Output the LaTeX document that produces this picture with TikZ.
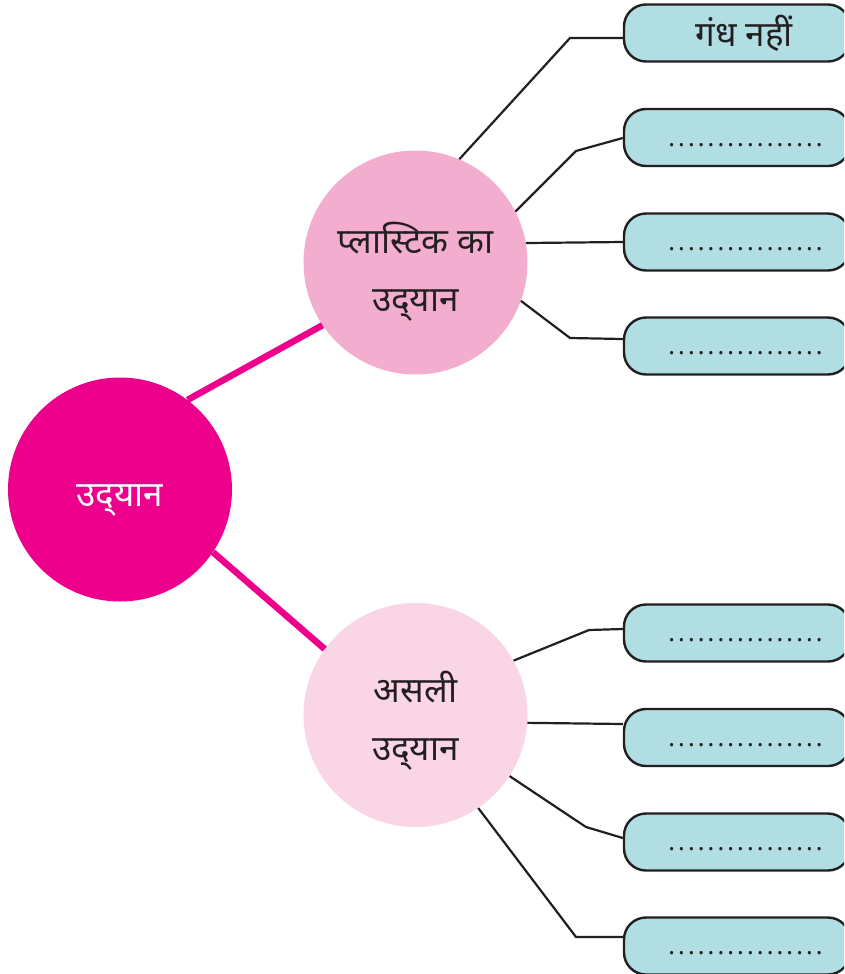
\documentclass[tikz,border=0pt]{standalone}
\usepackage{fontspec}
\setmainfont{Noto Sans}
\newfontfamily\dev[Script=Devanagari]{Noto Sans}
\usetikzlibrary{calc}
\definecolor{mag}{HTML}{EC008C}
\definecolor{pk}{HTML}{F3AECF}
\definecolor{lpk}{HTML}{F9D5E6}
\definecolor{bxfill}{HTML}{B0DEE3}
\definecolor{ink}{HTML}{231F20}
\newcommand{\dotrow}{\hbox to 158pt{\xleaders\hbox to 9.3pt{\hss.\hss}\hfill}}
\tikzset{
  bigcirc/.style={circle, minimum size=224pt, inner sep=0pt, align=center},
  ansbox/.style={draw=ink, line width=2.4pt, fill=bxfill, rounded corners=22pt,
    minimum width=226pt, minimum height=57pt, inner sep=0pt, text=ink},
  dotlabel/.style={font=\bfseries\fontsize{25}{25}\selectfont},
  link/.style={draw=mag, line width=6.5pt},
  leg/.style={draw=ink, line width=2.2pt},
  circtext/.style={font=\dev\fontsize{35}{58}\selectfont},
}
\begin{document}
\begin{tikzpicture}[x=1pt,y=-1pt]
\useasboundingbox (0,0) rectangle (844,974);
\clip (0,0) rectangle (844,974);
\fill[white] (0,0) rectangle (844,974);

\node[bigcirc, fill=mag, text=white, circtext, text height=33pt, text depth=0pt] (main) at (120,489.5) {उद्^^^^200cयान};
\node[bigcirc, fill=pk, text=ink, circtext] (plast) at (415.5,262.5) {\rule{0pt}{50pt}प्लास्टिक का\\उद्^^^^200cयान};
\node[bigcirc, fill=lpk, text=ink, circtext] (asli) at (415.5,715) {\rule{0pt}{43pt}असली\\उद्^^^^200cयान};

\draw[link] (main.53) -- (plast.-146.5);
\draw[link] (main.-34) -- (asli.144.5);

% top answer boxes
\node[ansbox, font=\dev\fontsize{35}{35}\selectfont] (p1) at (737,33) {\hspace*{14pt}गंध नहीं};
\node[ansbox, dotlabel] (p2) at (737,137.5) {\hspace*{17pt}\rule{0pt}{18pt}\dotrow};
\node[ansbox, dotlabel] (p3) at (737,242) {\hspace*{17pt}\rule{0pt}{18pt}\dotrow};
\node[ansbox, dotlabel] (p4) at (737,346) {\hspace*{17pt}\rule{0pt}{18pt}\dotrow};
% bottom answer boxes
\node[ansbox, dotlabel] (a1) at (737,633) {\hspace*{17pt}\rule{0pt}{18pt}\dotrow};
\node[ansbox, dotlabel] (a2) at (737,737.5) {\hspace*{17pt}\rule{0pt}{18pt}\dotrow};
\node[ansbox, dotlabel] (a3) at (737,842) {\hspace*{17pt}\rule{0pt}{18pt}\dotrow};
\node[ansbox, dotlabel] (a4) at (737,946) {\hspace*{17pt}\rule{0pt}{18pt}\dotrow};

% connectors
\draw[leg] (plast.67.6) -- (570,38) -- ($(p1.west)+(0,5)$);
\draw[leg] (plast.27.6) -- (576,151) -- ($(p2.west)+(0,0.5)$);
\draw[leg] (plast.10.5) -- (p3.west);
\draw[leg] (plast.-20.7) -- (570,338) -- ($(p4.west)+(0,-7)$);

\draw[leg] (asli.29.6) -- (589,630) -- ($(a1.west)+(0,-4)$);
\draw[leg] (asli.-4.6) -- ($(a2.west)+(0,-13.5)$);
\draw[leg] (asli.-33.4) -- (586,827) -- ($(a3.west)+(0,-4)$);
\draw[leg] (asli.-56.7) -- (576,937) -- ($(a4.west)+(0,-9)$);
\end{tikzpicture}
\end{document}
